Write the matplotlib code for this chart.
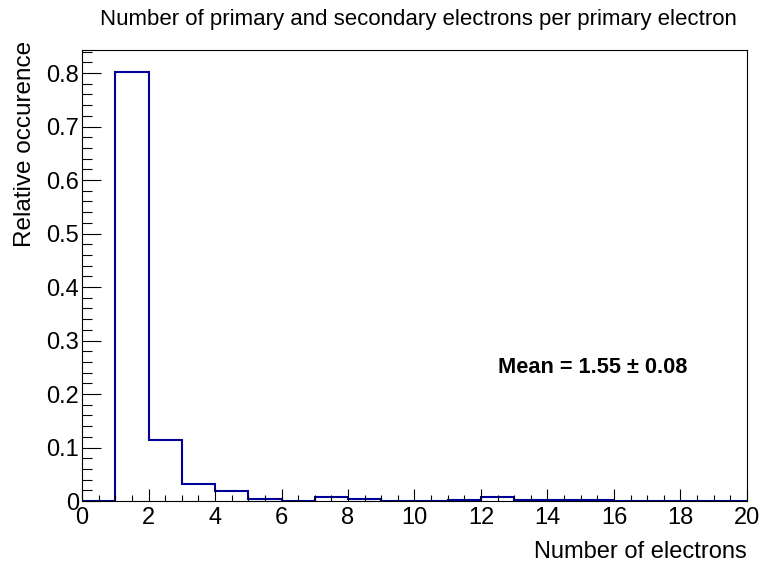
import matplotlib
matplotlib.use("Agg")
import matplotlib.pyplot as plt
import numpy as np
from matplotlib.ticker import MultipleLocator, FormatStrFormatter

plt.rcParams['font.family'] = ['Liberation Sans', 'DejaVu Sans']

# Histogram of electron multiplicity (unit-wide bins from 0 to 20)
bin_edges = list(range(0, 21))
rel_occurrence = [0.0, 0.802, 0.114, 0.032, 0.018, 0.004, 0.0005, 0.0075, 0.004, 0.0005,
                  0.0005, 0.002, 0.008, 0.002, 0.002, 0.002, 0.0, 0.0, 0.0, 0.0]
mean_value = 1.55
mean_error = 0.08

title = "Number of primary and secondary electrons per primary electron"
x_label = "Number of electrons"
y_label = "Relative occurence"

fig = plt.figure(figsize=(7.63, 5.63), dpi=100)
ax = fig.add_axes([0.1075, 0.1101, 0.8715, 0.8011])

ax.stairs(rel_occurrence, bin_edges, color="#000099", linewidth=1.5, baseline=0)

ax.set_xlim(0, 20)
ax.set_ylim(0, 0.843)

ax.xaxis.set_major_locator(MultipleLocator(2))
ax.xaxis.set_minor_locator(MultipleLocator(0.5))
ax.yaxis.set_major_locator(MultipleLocator(0.1))
ax.yaxis.set_minor_locator(MultipleLocator(0.02))
ax.xaxis.set_major_formatter(FormatStrFormatter('%g'))
ax.yaxis.set_major_formatter(FormatStrFormatter('%g'))

ax.tick_params(axis='both', which='both', direction='in', top=False, right=False,
               labelsize=17, colors='black', width=0.8)
ax.tick_params(axis='y', which='major', length=13.7, pad=2)
ax.tick_params(axis='y', which='minor', length=7.2)
ax.tick_params(axis='x', which='major', length=8.6, pad=4)
ax.tick_params(axis='x', which='minor', length=4.3)

for s in ax.spines.values():
    s.set_linewidth(0.8)

ax.set_xlabel(x_label, fontsize=17, loc='right', labelpad=9)
ax.set_ylabel(y_label, fontsize=17.5, loc='top')
ax.yaxis.set_label_coords(-0.069, 1.02, transform=ax.transAxes)
ax.yaxis.label.set_horizontalalignment('right')

fig.text(0.548, 0.966, title, ha='center', va='center', fontsize=16)

ax.text(15.37, 0.249, f"Mean = {mean_value:.2f} ± {mean_error:.2f}", ha='center', va='center',
        fontsize=15.7, fontweight='bold')

fig.savefig("out.png", dpi=100)
